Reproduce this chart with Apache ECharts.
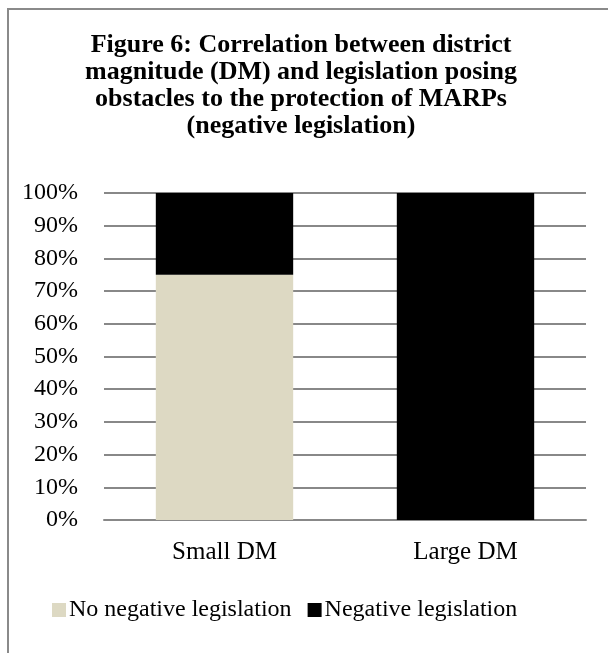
<!DOCTYPE html>
<html>
<head>
<meta charset="utf-8">
<script src="https://cdn.jsdelivr.net/npm/echarts@6/dist/echarts.min.js"></script>
<style>
  html, body { margin: 0; padding: 0; background: #fff; }
  #chart { width: 608px; height: 653px; }
</style>
</head>
<body>
<div id="chart"></div>
<script>
var categories = ['Small DM', 'Large DM'];
var noNegative = [75, 0];
var negative = [25, 100];
var seriesNames = ['No negative legislation', 'Negative legislation'];
var yTicks = { min: 0, max: 100, interval: 10 };
var titleText = 'Figure 6: Correlation between district\nmagnitude (DM) and legislation posing\nobstacles to the protection of MARPs\n(negative legislation)';

var serif = '"Liberation Serif", "DejaVu Serif", serif';

var myChart = echarts.init(document.getElementById('chart'));
var option = {
    backgroundColor: '#fff',
    animation: false,
    graphic: [{
        type: 'rect',
        silent: true,
        shape: { x: 8, y: 9, width: 640, height: 700 },
        style: { fill: 'none', stroke: '#8a8a8a', lineWidth: 2 }
    }, {
        // 标题 居中多行
        type: 'text',
        silent: true,
        x: 301,
        y: 32,
        style: {
            text: titleText,
            align: 'center',
            verticalAlign: 'top',
            font: 'bold 26px ' + serif,
            lineHeight: 27,
            fill: '#000'
        }
    }],
    legend: {
        data: seriesNames,
        left: 47,
        top: 593,
        itemWidth: 14,
        itemHeight: 14,
        itemGap: 16,
        icon: 'rect',
        textStyle: { fontFamily: serif, fontSize: 24, color: '#000', padding: [0, 0, 0, -2] }
    },
    grid: { left: 104, right: 22, top: 193, bottom: 133 },
    xAxis: {
        type: 'category',
        data: categories,
        axisTick: { show: false },
        axisLine: { lineStyle: { color: '#888', width: 2 } },
        axisLabel: { margin: 20, fontFamily: serif, fontSize: 25, color: '#000' }
    },
    yAxis: {
        type: 'value',
        min: yTicks.min,
        max: yTicks.max,
        interval: yTicks.interval,
        axisLine: { show: false },
        axisTick: { show: false },
        splitLine: { lineStyle: { color: '#888', width: 2 } },
        axisLabel: { margin: 26, fontFamily: serif, fontSize: 24, color: '#000', formatter: '{value}%' }
    },
    series: [{
        name: seriesNames[0],
        type: 'bar',
        stack: 'total',
        barWidth: '57%',
        itemStyle: { color: '#DDD9C3' },
        data: noNegative
    }, {
        name: seriesNames[1],
        type: 'bar',
        stack: 'total',
        barWidth: '57%',
        itemStyle: { color: '#000' },
        data: negative
    }]
};
myChart.setOption(option);
</script>
</body>
</html>
